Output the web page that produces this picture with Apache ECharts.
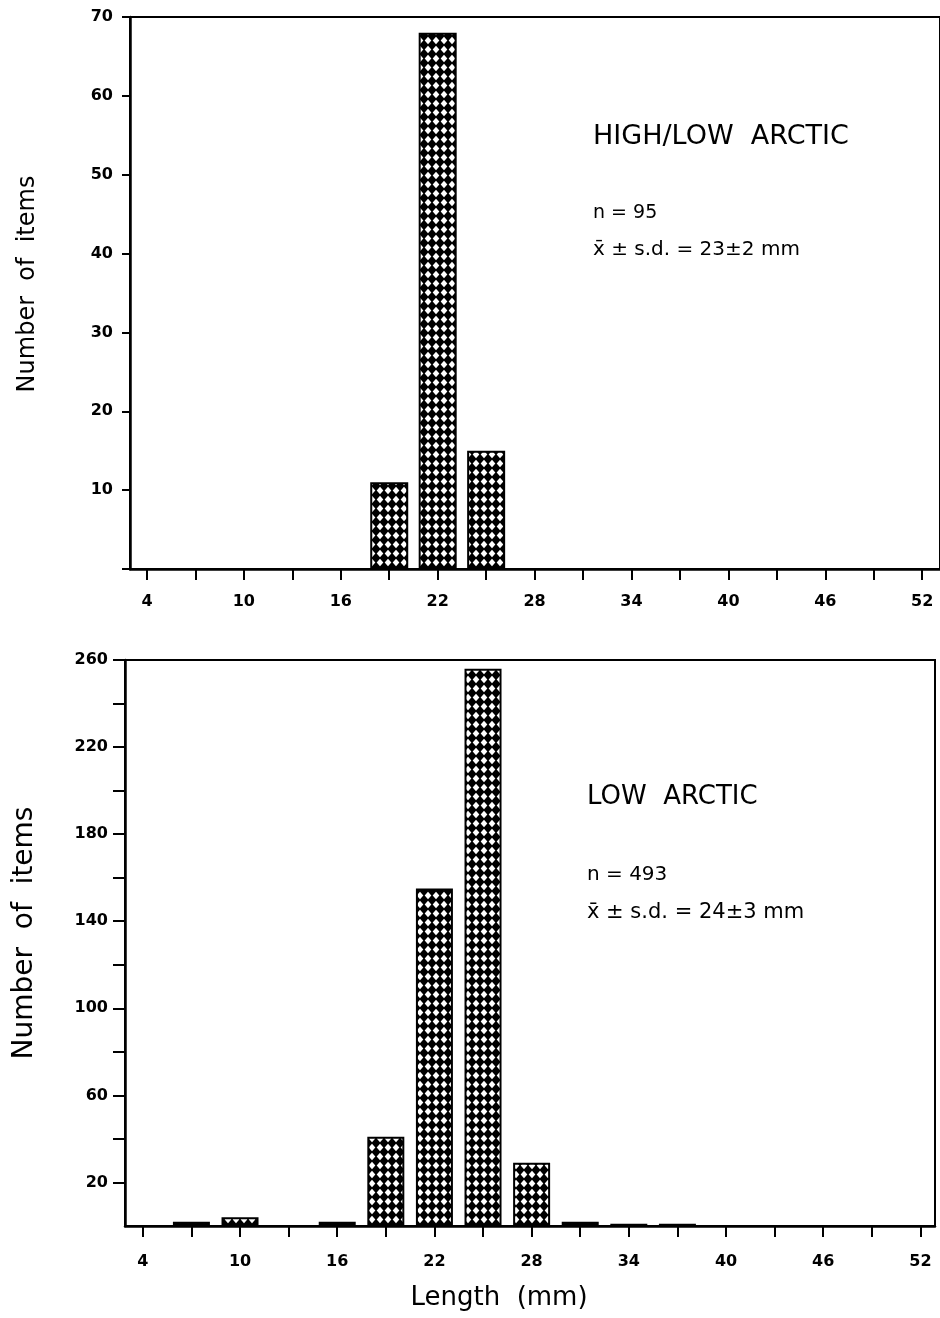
<!DOCTYPE html>
<html>
<head>
<meta charset="utf-8">
<script src="https://cdn.jsdelivr.net/npm/echarts@6/dist/echarts.min.js"></script>
<style>
  html, body { margin: 0; padding: 0; background: #fff; }
  #chart { width: 940px; height: 1318px; }
</style>
</head>
<body>
<div id="chart"></div>
<script>
// length classes (mm) and counts
var topLengths = [19, 22, 25];
var topCounts = [11, 68, 15];
var bottomLengths = [7, 10, 16, 19, 22, 25, 28, 31, 34, 37];
var bottomCounts = [2, 4, 2, 41, 155, 256, 29, 2, 1, 1];

// ticks and tick labels
var xTicks = [4, 7, 10, 13, 16, 19, 22, 25, 28, 31, 34, 37, 40, 43, 46, 49, 52];
var xLabels = [4, 10, 16, 22, 28, 34, 40, 46, 52];
var topYLabels = [10, 20, 30, 40, 50, 60, 70];
var bottomYTicks = [20, 40, 60, 80, 100, 120, 140, 160, 180, 200, 220, 240, 260];
var bottomYLabels = [20, 60, 100, 140, 180, 220, 260];

// cross-hatch fill, black mesh with white diamonds
function hatch() {
	var c = document.createElement('canvas');
	c.width = 8; c.height = 9;
	var g = c.getContext('2d');
	g.fillStyle = '#000';
	g.fillRect(0, 0, 8, 9);
	g.fillStyle = '#fff';
	g.beginPath();
	g.moveTo(4, 0.7);
	g.lineTo(7.3, 4.5);
	g.lineTo(4, 8.3);
	g.lineTo(0.7, 4.5);
	g.closePath();
	g.fill();
	return c;
}
var pattern = { image: hatch(), repeat: 'repeat' };

function pairs(xs, ys) {
	var out = [];
	for (var i = 0; i < xs.length; i++) { out.push([xs[i], ys[i]]); }
	return out;
}

var lblFont = { color: '#000', fontFamily: 'DejaVu Sans', fontWeight: 'bold', fontSize: 16 };

function xAxisFor(idx, min, max, margin) {
	return {
		gridIndex: idx, type: 'value', min: min, max: max,
		axisLine: { show: true, onZero: false, lineStyle: { color: '#000', width: 2.5 } },
		axisTick: { show: true, customValues: xTicks, length: 11, lineStyle: { color: '#000', width: 2 } },
		axisLabel: Object.assign({ customValues: xLabels, margin: margin }, lblFont),
		splitLine: { show: false }
	};
}

var myChart = echarts.init(document.getElementById('chart'));
var option = {
	animation: false,
	backgroundColor: '#fff',
	grid: [
		{ left: 130, top: 17, width: 810, height: 552, show: true, borderColor: '#000', borderWidth: 2, backgroundColor: 'transparent' },
		{ left: 125, top: 660, width: 810, height: 566, show: true, borderColor: '#000', borderWidth: 2, backgroundColor: 'transparent' }
	],
	xAxis: [
		xAxisFor(0, 2.95, 53.1, 25),
		xAxisFor(1, 2.9, 52.9, 28)
	],
	yAxis: [
		{
			gridIndex: 0, type: 'value', min: 0, max: 70, interval: 10,
			axisLine: { show: true, lineStyle: { color: '#000', width: 2.5 } },
			axisTick: { show: true, length: 8, lineStyle: { color: '#000', width: 2 } },
			axisLabel: Object.assign({ customValues: topYLabels, margin: 17 }, lblFont),
			splitLine: { show: false }
		},
		{
			gridIndex: 1, type: 'value', min: 0, max: 260,
			axisLine: { show: true, lineStyle: { color: '#000', width: 2.5 } },
			axisTick: { show: true, customValues: bottomYTicks, length: 12, lineStyle: { color: '#000', width: 2 } },
			axisLabel: Object.assign({ customValues: bottomYLabels, margin: 17 }, lblFont),
			splitLine: { show: false }
		}
	],
	series: [
		{
			type: 'bar', xAxisIndex: 0, yAxisIndex: 0, barWidth: 38,
			data: pairs(topLengths, topCounts),
			itemStyle: { color: pattern, borderColor: '#000', borderWidth: 2 }
		},
		{
			type: 'bar', xAxisIndex: 1, yAxisIndex: 1, barWidth: 37,
			data: pairs(bottomLengths, bottomCounts),
			itemStyle: { color: pattern, borderColor: '#000', borderWidth: 2 }
		}
	],
	graphic: [
		{ type: 'text', x: 28, y: 284, rotation: Math.PI / 2, style: { text: 'Number  of  items', font: '24px "DejaVu Sans"', fill: '#000', align: 'center', verticalAlign: 'middle' } },
		{ type: 'text', x: 25, y: 933, rotation: Math.PI / 2, style: { text: 'Number  of  items', font: '28px "DejaVu Sans"', fill: '#000', align: 'center', verticalAlign: 'middle' } },
		{ type: 'text', x: 593, y: 137, style: { text: 'HIGH/LOW  ARCTIC', font: '27px "DejaVu Sans"', fill: '#000', verticalAlign: 'middle' } },
		{ type: 'text', x: 593, y: 213, style: { text: 'n = 95', font: '19px "DejaVu Sans"', fill: '#000', verticalAlign: 'middle' } },
		{ type: 'text', x: 593, y: 250, style: { text: 'x\u0304 \u00b1 s.d. = 23\u00b12 mm', font: '20px "DejaVu Sans"', fill: '#000', verticalAlign: 'middle' } },
		{ type: 'text', x: 587, y: 797, style: { text: 'LOW  ARCTIC', font: '26px "DejaVu Sans"', fill: '#000', verticalAlign: 'middle' } },
		{ type: 'text', x: 587, y: 875, style: { text: 'n = 493', font: '20px "DejaVu Sans"', fill: '#000', verticalAlign: 'middle' } },
		{ type: 'text', x: 587, y: 913, style: { text: 'x\u0304 \u00b1 s.d. = 24\u00b13 mm', font: '21px "DejaVu Sans"', fill: '#000', verticalAlign: 'middle' } },
		{ type: 'text', x: 499, y: 1298, style: { text: 'Length  (mm)', font: '26px "DejaVu Sans"', fill: '#000', align: 'center', verticalAlign: 'middle' } }
	]
};
myChart.setOption(option);
</script>
</body>
</html>
